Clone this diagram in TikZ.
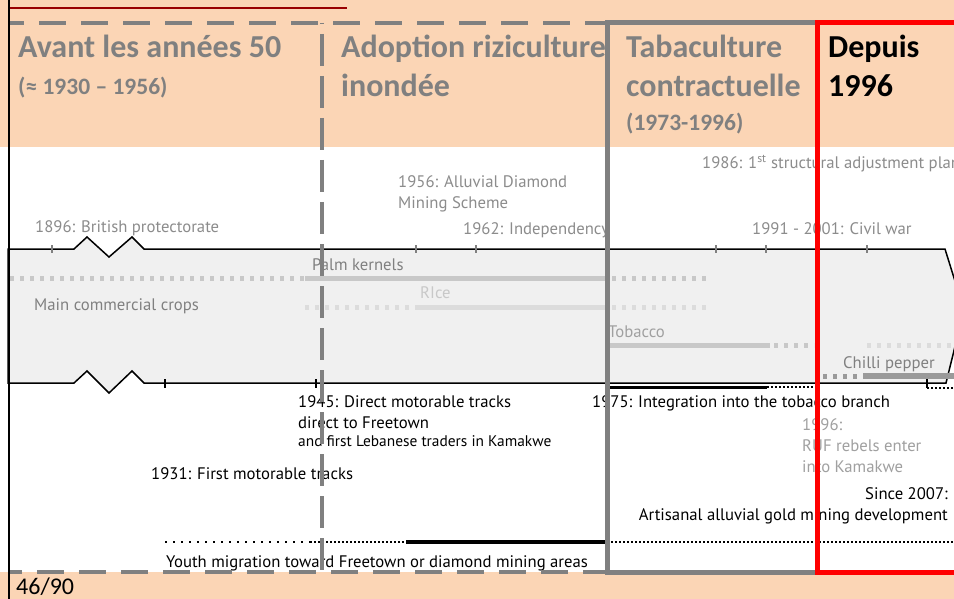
\documentclass[tikz,border=0pt]{standalone}
\usepackage{fontspec}
\setmainfont{PT Sans}
\newfontfamily\titlefont{Carlito}
\definecolor{peach}{HTML}{FBD5B5}
\definecolor{band}{HTML}{F0F0F0}
\definecolor{frame}{HTML}{808080}
\definecolor{evgray}{HTML}{8C8C8C}
\definecolor{lightcrop}{HTML}{C8C8C8}
\definecolor{palecrop}{HTML}{DCDCDC}
\definecolor{darkred}{HTML}{990000}

\begin{document}
\begin{tikzpicture}[x=1pt, y=-1pt,
  every node/.style={inner sep=0pt, anchor=base west},
  title/.style={font=\titlefont\bfseries\fontsize{32}{38}\selectfont, text=frame},
  subtitle/.style={font=\titlefont\bfseries\fontsize{23.5}{28}\selectfont, text=frame},
  event/.style={font=\fontsize{16.7}{20}\selectfont, text=evgray},
  fact/.style={font=\fontsize{16.7}{20}\selectfont, text=black},
  crop/.style={line width=5pt},
  cropdots/.style={line width=5pt, dash pattern=on 4pt off 6pt},
  phase/.style={line width=4.5pt, frame, dash pattern=on 27pt off 15pt}]
  \useasboundingbox (0,0) rectangle (954,599);
  % Fonds
  \fill[peach] (0,0) rectangle (954,599);
  \fill[white] (0,147) rectangle (954,572);
  % Bande des cultures
  \filldraw[fill=band, draw=black, line width=1.5pt]
    (8,249) -- (74,249) -- (87,237) -- (109,257) -- (132,237) -- (144,249)
    -- (945,249) -- (964,310) -- (946,383)
    -- (144,383) -- (132,371) -- (109,393) -- (87,371) -- (74,383)
    -- (8,383) -- cycle;
  % Graduations
  \foreach \x in {52,416,476,716,766,867}
    \draw[frame, line width=2pt] (\x,245) -- (\x,253);
  \foreach \x in {165,316}
    \draw[line width=2pt] (\x,379) -- (\x,388);
  % Cultures
  \draw[cropdots, lightcrop] (10,278) -- (305,278);
  \draw[crop, lightcrop] (305,278) -- (607,278);
  \draw[cropdots, lightcrop] (612,278) -- (706,278);
  \draw[cropdots, palecrop] (305,307) -- (416,307);
  \draw[crop, palecrop] (416,307) -- (607,307);
  \draw[cropdots, palecrop] (612,307) -- (706,307);
  \draw[crop, lightcrop] (607,345) -- (770,345);
  \draw[cropdots, lightcrop] (774,345) -- (814,345);
  \draw[cropdots, palecrop] (867,345) -- (954,345);
  \draw[cropdots, frame!80] (823,376) -- (861,376);
  \draw[line width=6pt, frame!80] (863,376) -- (954,376);
  \node[event, text=frame] (palm) at (312,270) {Palm kernels};
  \node[event, text=lightcrop] (rice) at (420,298) {RIce};
  \node[event, text=frame!75] (tobacco) at (608,337) {Tobacco};
  \node[event, text=frame] (chilli) at (843,368) {Chilli pepper};
  \node[event, text=frame] (crops) at (34,310) {Main commercial crops};
  % Evenements
  \node[event] (protect) at (35,233) {1896: British protectorate};
  \node[event] (diamond1) at (398,188) {1956: Alluvial Diamond};
  \node[event] (diamond2) at (398,209) {Mining Scheme};
  \node[event] (indep) at (463,234) {1962: Independency};
  \node[event] (sap) at (702,169) {1986: 1\textsuperscript{st} structural adjustment plan};
  \node[event] (war) at (752,234) {1991 - 2001: Civil war};
  % Pistes, tabac, or
  \draw[line width=3pt] (610,387) -- (767,387);
  \draw[line width=2pt, dash pattern=on 2pt off 2pt] (767,387) -- (815,387);
  \draw[line width=1.5pt] (927,379) -- (927,388);
  \draw[line width=2pt, dash pattern=on 2pt off 2pt] (927,388) -- (954,388);
  \node[fact] (tracks1) at (298,407) {1945: Direct motorable tracks};
  \node[fact] (tracks2) at (298,428) {direct to Freetown};
  \node[fact, font=\fontsize{15.4}{18}\selectfont] (traders) at (298,446) {and first Lebanese traders in Kamakwe};
  \node[fact] (first) at (151,479) {1931: First motorable tracks};
  \node[fact] (branch) at (592,407) {1975: Integration into the tobacco branch};
  \node[event, text=frame!75] (ruf1) at (802,430) {1996:};
  \node[event, text=frame!75] (ruf2) at (802,451) {RUF rebels enter};
  \node[event, text=frame!75] (ruf3) at (802,472) {into Kamakwe};
  \node[fact, anchor=base east] (gold1) at (948,499) {Since 2007:};
  \node[fact, anchor=base east] (gold2) at (948,520) {Artisanal alluvial gold mining development};
  % Migration
  \draw[line width=2pt, dash pattern=on 2pt off 6pt] (165,542) -- (310,542);
  \draw[line width=2pt, dash pattern=on 2pt off 2pt] (310,542) -- (406,542);
  \draw[line width=4pt] (406,542) -- (607,542);
  \draw[line width=2pt, dash pattern=on 2pt off 2pt] (607,542) -- (954,542);
  \node[fact] (youth) at (166,567) {Youth migration toward Freetown or diamond mining areas};
  % Periodes
  \node[title] (avant) at (18,58) {Avant les années 50};
  \node[subtitle] (avantdates) at (18,95) {(≈ 1930 – 1956)};
  \node[title] (adopt1) at (341,58) {Adoption riziculture};
  \node[title] (adopt2) at (341,97) {inondée};
  \node[title] (tabac1) at (626,58) {Tabaculture};
  \node[title] (tabac2) at (626,97) {contractuelle};
  \node[subtitle] (tabacdates) at (626,131) {(1973-1996)};
  \node[title, text=black] (depuis1) at (828,58) {Depuis};
  \node[title, text=black] (depuis2) at (828,97) {1996};
  \draw[phase, dash phase=11pt] (8,23) -- (607,23);
  \draw[phase, dash phase=13pt] (8,572) -- (607,572);
  \draw[phase, dash pattern=on 32pt off 10pt, dash phase=31pt] (322,23) -- (322,572);
  \draw[frame, line width=5pt] (607,23) rectangle (817,572);
  \draw[red, line width=5pt] (817,23) rectangle (990,572);
  % Bords
  \draw[darkred, line width=2.5pt] (8,8) -- (347,8);
  \draw[black, line width=2pt] (8.5,0) -- (8.5,599);
  \node[font=\titlefont\fontsize{24}{28}\selectfont] (page) at (16,594) {46/90};
\end{tikzpicture}
\end{document}
